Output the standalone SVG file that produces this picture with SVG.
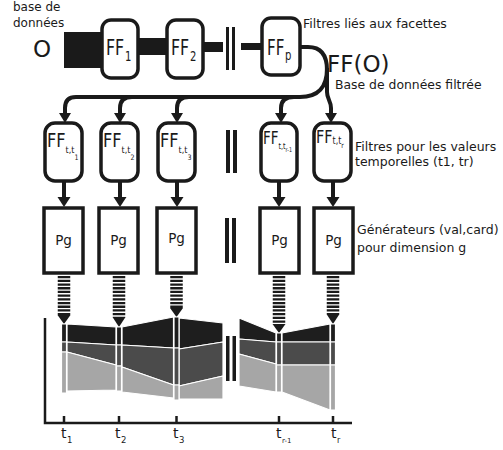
<svg xmlns="http://www.w3.org/2000/svg" width="503" height="450" viewBox="0 0 503 450">
<style>
.t{font-family:"DejaVu Sans",sans-serif;fill:#1a1a1a}
.lbl{font-size:12.5px}
.node{fill:#fff;stroke:#1a1a1a;stroke-width:3.5}
.blk{fill:#1a1a1a}
.con{fill:none;stroke:#1a1a1a;stroke-width:4}
.str{fill:none;stroke:#1a1a1a;stroke-width:12.5;stroke-dasharray:2.3 1.4}
.k{fill:#1e1e1e;stroke:#fff;stroke-width:1.2;stroke-linejoin:round}
.d{fill:#4b4b4b;stroke:#fff;stroke-width:1.2;stroke-linejoin:round}
.l{fill:#a6a6a6;stroke:#fff;stroke-width:1.2;stroke-linejoin:round}
.axis{fill:none;stroke:#1a1a1a;stroke-width:2.5}
</style>
<rect width="503" height="450" fill="#fff"/>

<!-- labels -->
<g id="labels">
<text class="t" x="13" y="11" font-size="12">base de<tspan x="13" dy="16">données</tspan></text>
<text class="t" x="33" y="57" font-size="23">O</text>
<text class="t lbl" x="303" y="28">Filtres liés aux facettes</text>
<text class="t" x="327" y="72" font-size="23">FF(O)</text>
<text class="t" x="335" y="89" font-size="12.4">Base de données filtrée</text>
<text class="t lbl" x="355" y="151">Filtres pour les valeurs<tspan x="355" dy="14.5">temporelles (t1, tr)</tspan></text>
<text class="t lbl" x="357" y="234">Générateurs (val,card)<tspan x="357" dy="18">pour dimension g</tspan></text>
</g>

<!-- connectors -->
<g id="connectors">
<rect class="blk" x="64" y="32" width="40" height="36"/>
<rect class="blk" x="138" y="38" width="30" height="17"/>
<rect class="blk" x="203" y="42" width="20" height="10"/>
<rect class="blk" x="241" y="43" width="22" height="7"/>
<rect class="blk" x="226" y="27" width="3" height="43"/>
<rect class="blk" x="232" y="27" width="3" height="43"/>

<path class="con" d="M300,47 H308 C322,47 327,56 327,70 L327,92 C327,99 331,101 331,108 L331,114"/>
<path class="con" d="M327,68 C327,88 318,97 300,97 L76,97 Q65,97 65,108 L65,114"/>
<path class="con" d="M132,97 Q120,97 120,108 L120,114"/>
<path class="con" d="M189,97 Q177,97 177,108 L177,114"/>
<path class="con" d="M294,97 Q281,97 281,108 L281,114"/>
<polygon class="blk" points="59,113 71,113 65,123"/>
<polygon class="blk" points="114,113 126,113 120,123"/>
<polygon class="blk" points="171,113 183,113 177,123"/>
<polygon class="blk" points="275,113 287,113 281,123"/>
<polygon class="blk" points="325,113 337,113 331,123"/>

<rect class="blk" x="226" y="130" width="4" height="43"/>
<rect class="blk" x="233" y="130" width="4" height="43"/>

<path class="con" d="M64,181 V199 M120,181 V199 M177,181 V199 M279,181 V199 M333,181 V199"/>
<polygon class="blk" points="57.5,197 70.5,197 64,207"/>
<polygon class="blk" points="113.5,197 126.5,197 120,207"/>
<polygon class="blk" points="170.5,197 183.5,197 177,207"/>
<polygon class="blk" points="272.5,197 285.5,197 279,207"/>
<polygon class="blk" points="326.5,197 339.5,197 333,207"/>

<rect class="blk" x="225" y="218" width="4" height="45"/>
<rect class="blk" x="232" y="218" width="4" height="45"/>

<path class="str" d="M64,276 V315"/>
<path class="str" d="M119,276 V317"/>
<path class="str" d="M176.5,276 V308"/>
<path class="str" d="M279,276 V324"/>
<path class="str" d="M333,276 V314"/>
<polygon class="blk" points="57.5,315 70.5,315 64,324"/>
<polygon class="blk" points="112.5,317 125.5,317 119,327"/>
<polygon class="blk" points="170,308 183,308 176.5,317"/>
<polygon class="blk" points="272.5,324 285.5,324 279,333"/>
<polygon class="blk" points="326.5,314 339.5,314 333,324"/>
</g>

<!-- top facet filter nodes -->
<g id="node-ff1">
<rect class="node" x="102" y="20" width="36" height="58" rx="9"/>
<text class="t" transform="translate(106,55) scale(0.72,1)" font-size="22">FF<tspan font-size="14" dx="1" dy="6">1</tspan></text>
</g>
<g id="node-ff2">
<rect class="node" x="167" y="20" width="36" height="58" rx="9"/>
<text class="t" transform="translate(171,55) scale(0.72,1)" font-size="22">FF<tspan font-size="14" dx="1" dy="6">2</tspan></text>
</g>
<g id="node-ffp">
<rect class="node" x="262" y="18" width="38" height="57" rx="9"/>
<text class="t" transform="translate(267,55) scale(0.72,1)" font-size="21">FF<tspan font-size="14" dx="1" dy="5">p</tspan></text>
</g>

<!-- temporal filter nodes -->
<g id="node-fft1">
<rect class="node" x="45" y="123" width="37" height="58" rx="10"/>
<text class="t" transform="translate(47,147) scale(0.85,1)" font-size="19">FF<tspan font-size="9.5" dy="6">t,t</tspan><tspan font-size="7.5" dy="7">1</tspan></text>
</g>
<g id="node-fft2">
<rect class="node" x="101" y="123" width="37" height="58" rx="10"/>
<text class="t" transform="translate(103,147) scale(0.85,1)" font-size="19">FF<tspan font-size="9.5" dy="6">t,t</tspan><tspan font-size="7.5" dy="7">2</tspan></text>
</g>
<g id="node-fft3">
<rect class="node" x="158" y="123" width="37" height="58" rx="10"/>
<text class="t" transform="translate(160,147) scale(0.85,1)" font-size="19">FF<tspan font-size="9.5" dy="6">t,t</tspan><tspan font-size="7.5" dy="7">3</tspan></text>
</g>
<g id="node-fft4">
<rect class="node" x="261" y="123" width="36" height="58" rx="10"/>
<text class="t" transform="translate(263,144) scale(0.75,1)" font-size="18">FF<tspan font-size="8.5" dy="5">t,t</tspan><tspan font-size="6.5" dy="3">r-1</tspan></text>
</g>
<g id="node-fft5">
<rect class="node" x="314" y="123" width="37" height="58" rx="10"/>
<text class="t" transform="translate(316,143) scale(0.8,1)" font-size="18">FF<tspan font-size="10" dy="1">t,t</tspan><tspan font-size="7.5" dy="4">r</tspan></text>
</g>

<!-- generator nodes -->
<g id="node-pg1"><rect class="node" x="44" y="208" width="39" height="65"/><text class="t" x="63.5" y="245" font-size="13.5" text-anchor="middle">Pg</text></g>
<g id="node-pg2"><rect class="node" x="99" y="208" width="39" height="65"/><text class="t" x="118.5" y="245" font-size="13.5" text-anchor="middle">Pg</text></g>
<g id="node-pg3"><rect class="node" x="157" y="208" width="39" height="65"/><text class="t" x="176.5" y="243" font-size="13.5" text-anchor="middle">Pg</text></g>
<g id="node-pg4"><rect class="node" x="260" y="208" width="39" height="65"/><text class="t" x="279.5" y="245" font-size="13.5" text-anchor="middle">Pg</text></g>
<g id="node-pg5"><rect class="node" x="314" y="208" width="39" height="65"/><text class="t" x="333.5" y="245" font-size="13.5" text-anchor="middle">Pg</text></g>

<!-- chart -->
<g id="chart">
<polygon class="k" points="67,324 116,327 116,345 67,342"/>
<polygon class="d" points="67,342 116,345 116,365 67,352"/>
<polygon class="l" points="67,352 116,365 116,390 67,391"/>
<polygon class="k" points="122,327 173.5,317 173.5,348 122,345"/>
<polygon class="d" points="122,345 173.5,348 173.5,385 122,367"/>
<polygon class="l" points="122,367 173.5,385 173.5,398 122,392"/>
<polygon class="k" points="179,318 223,323 223,342 179,349"/>
<polygon class="d" points="179,349 223,342 223,376 179,386"/>
<polygon class="l" points="179,386 223,376 223,399 179,399"/>
<polygon class="k" points="239,318 276,333 276,342 239,339"/>
<polygon class="d" points="239,339 276,342 276,364 239,354"/>
<polygon class="l" points="239,354 276,364 276,392 239,386"/>
<polygon class="k" points="282,333 330,324 330,342 282,342"/>
<polygon class="d" points="282,342 330,342 330,365 282,365"/>
<polygon class="l" points="282,365 330,365 330,410 282,392"/>

<rect class="k" x="61.5" y="324" width="5" height="18"/>
<rect class="d" x="61.5" y="342" width="5" height="10"/>
<rect class="l" x="61.5" y="352" width="5" height="41"/>
<rect class="k" x="116.5" y="327" width="5" height="18"/>
<rect class="d" x="116.5" y="345" width="5" height="21"/>
<rect class="l" x="116.5" y="366" width="5" height="25"/>
<rect class="k" x="174" y="317" width="5" height="31"/>
<rect class="d" x="174" y="348" width="5" height="37"/>
<rect class="l" x="174" y="385" width="5" height="15"/>
<rect class="k" x="276.5" y="333" width="5" height="9"/>
<rect class="d" x="276.5" y="342" width="5" height="23"/>
<rect class="l" x="276.5" y="365" width="5" height="27"/>
<rect class="k" x="330.5" y="324" width="5" height="18"/>
<rect class="d" x="330.5" y="342" width="5" height="23"/>
<rect class="l" x="330.5" y="365" width="5" height="45"/>

<rect class="blk" x="226" y="336" width="3.5" height="45"/>
<rect class="blk" x="232.5" y="336" width="3.5" height="45"/>

<path class="axis" d="M45,318 V423 H352"/>
<path class="axis" d="M64,416 V423 M119,416 V423 M176.5,416 V423 M279,416 V423 M333,416 V423"/>

<text class="t" x="61" y="438" font-size="14">t<tspan font-size="8.5" dx="0.5" dy="5">1</tspan></text>
<text class="t" x="115" y="438" font-size="14">t<tspan font-size="8.5" dx="0.5" dy="5">2</tspan></text>
<text class="t" x="173" y="438" font-size="14">t<tspan font-size="8.5" dx="0.5" dy="5">3</tspan></text>
<text class="t" x="276" y="438" font-size="14">t<tspan font-size="7" dx="0.5" dy="5">r-1</tspan></text>
<text class="t" x="331" y="438" font-size="14">t<tspan font-size="8" dx="0.5" dy="5">r</tspan></text>
</g>
</svg>
